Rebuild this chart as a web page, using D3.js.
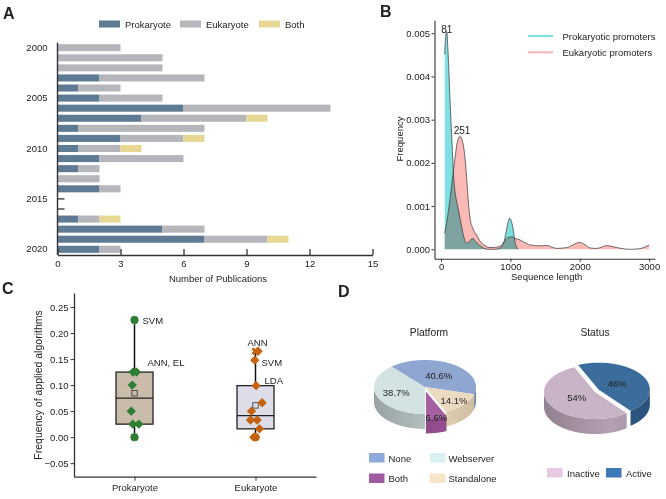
<!DOCTYPE html>
<html><head><meta charset="utf-8">
<script src="https://cdn.jsdelivr.net/npm/d3@7"></script>
<style>
body{margin:0;background:#fff;}
text{font-family:"Liberation Sans",Arial,sans-serif;fill:#222;}
.axis path,.axis line{stroke:#333;}
</style></head><body>
<svg id="fig" width="666" height="499"></svg>
<script>
// ---------- Panel A data ----------
const years = [2000,2001,2002,2003,2004,2005,2006,2007,2008,2009,2010,2011,2012,2013,2014,2015,2016,2017,2018,2019,2020];
const seriesA = ["Prokaryote","Eukaryote","Both"];
const prokaryote = [0,0,0,2,1,2,6,4,1,3,1,2,1,0,2,0,0,1,5,7,2];
const eukaryote  = [3,5,5,5,2,3,7,5,6,3,2,4,1,2,1,0,0,1,2,3,1];
const both       = [0,0,0,0,0,0,0,1,0,1,1,0,0,0,0,0,0,1,0,1,0];
const xTicksA = [0,3,6,9,12,15];

// ---------- Panel B data ----------
const prokLength  = [53,66,82,100,130,160,187,210,240,274,322,370,418,457,500,550,600,680,780,860,910,950,990,1030,1070,1115];
const prokDensity = [0.00451,0.0049,0.00504,0.0046,0.00346,0.0024,0.00157,0.00125,0.001,0.00072,0.00033,0.00014,0.0002,0.00025,0.00018,0.0001,0.00004,0,0,0.00004,0.00018,0.0005,0.00072,0.00055,0.00015,0];
const eukLength  = [53,106,154,202,236,274,312,346,370,394,418,457,514,562,635,707,803,875,947,1019,1067,1139,1200,1284,1428,1524,1600,1668,1812,1900,1995,2080,2149,2245,2389,2533,2640,2725,2850,2950,3000];
const eukDensity = [0.00037,0.00087,0.00149,0.00211,0.00249,0.00261,0.00249,0.00211,0.00164,0.0011,0.00072,0.00049,0.00033,0.00019,0.00008,0.00004,0.00005,0.0001,0.00025,0.00029,0.00025,0.000216,0.00016,0.0001,0.00008,0.00009,0.00005,0.00002,0.00004,0.0001,0.00016,0.0001,0.00003,0.00002,0.000085,0.00004,0.00001,0,0.00001,0.00006,0.0001];
const peakLabels = ["81","251"];
const densityNames = ["Prokaryotic promoters","Eukaryotic promoters"];
const yTicksB = [0,0.001,0.002,0.003,0.004,0.005];
const xTicksB = [0,1000,2000,3000];

// ---------- Panel C data ----------
const algoGroups = ["Prokaryote","Eukaryote"];
const prokFreq = [0.225,0.125,0.125,0.1,0.05,0.025,0.025,0];
const eukFreq  = [0.165,0.148,0.099,0.066,0.05,0.033,0.033,0.016,0,0];
const prokNotes = ["SVM","ANN, EL"], prokNoteVals = [0.225,0.125];
const eukNotes = ["ANN","SVM","LDA"], eukNoteVals = [0.165,0.148,0.099];
const yTicksC = [-0.05,0,0.05,0.1,0.15,0.2,0.25];

// ---------- Panel D data ----------
const platformLabels = ["None","Webserver","Both","Standalone"];
const platformValues = [40.6,38.7,6.6,14.1];
const statusLabels = ["Inactive","Active"];
const statusValues = [54,46];

const svg = d3.select("#fig");
svg.append("rect").attr("width",666).attr("height",499).attr("fill","#fff");
const defs = svg.append("defs");
const FS = 9.5;

function letter(t,x,y){svg.append("text").attr("x",x).attr("y",y).attr("font-size",16).attr("font-weight","bold").attr("fill","#111").text(t);}
letter("A",3,18.5); letter("B",380,17); letter("C",2,294); letter("D",338,297);

// ================= Panel A =================
(function(){
  const g = svg.append("g");
  const colors = {Prokaryote:"#5f7b93",Eukaryote:"#b5b6bb",Both:"#e6d893"};
  const x = d3.scaleLinear().domain([0,15]).range([57.5,372.5]);
  const y = d3.scaleBand().domain(years).range([42.66,254.34]).paddingInner(0.3).paddingOuter(0.15);
  const table = years.map((yr,i)=>({year:yr,Prokaryote:prokaryote[i],Eukaryote:eukaryote[i],Both:both[i]}));
  const stack = d3.stack().keys(seriesA)(table);
  const ya = g.append("g").attr("class","axis").attr("transform","translate(57.5,0)")
    .call(d3.axisLeft(y).tickSizeInner(-7).tickSizeOuter(0).tickPadding(10).tickFormat(d=>d%5===0?d:""));
  ya.selectAll("text").attr("font-size",FS).attr("font-family",null);
  ya.selectAll("line").attr("stroke-width",1.3);
  ya.select(".domain").remove();
  stack.forEach(s=>{
    g.append("g").selectAll("rect").data(s).join("rect")
      .attr("x",d=>x(d[0])).attr("width",d=>x(d[1])-x(d[0]))
      .attr("y",d=>y(d.data.year)).attr("height",y.bandwidth())
      .attr("fill",colors[s.key]);
  });
  g.append("line").attr("x1",57.5).attr("x2",57.5).attr("y1",42.66).attr("y2",255).attr("stroke","#333").attr("stroke-width",1.4);
  const xa = g.append("g").attr("class","axis").attr("transform","translate(0,255)")
    .call(d3.axisBottom(x).tickValues(xTicksA).tickSizeInner(-6).tickSizeOuter(0).tickPadding(5));
  xa.selectAll("text").attr("font-size",FS).attr("font-family",null);
  xa.select(".domain").attr("stroke-width",1.4);
  xa.selectAll("line").attr("stroke-width",1.3);
  g.append("text").attr("x",218).attr("y",281.5).attr("text-anchor","middle").attr("font-size",FS).text("Number of Publications");
  const lx = [99,180,259];
  seriesA.forEach((k,i)=>{
    g.append("rect").attr("x",lx[i]).attr("y",20.5).attr("width",21).attr("height",7).attr("fill",colors[k]);
    g.append("text").attr("x",lx[i]+26).attr("y",27.5).attr("font-size",FS).text(k);
  });
})();

// ================= Panel B =================
(function(){
  const g = svg.append("g");
  const x = d3.scaleLinear().domain([-94,3085]).range([434.5,655]);
  const y = d3.scaleLinear().domain([-0.00022,0.0053]).range([258.8,20.3]);
  const prok = prokLength.map((l,i)=>[l,prokDensity[i]]);
  const euk = eukLength.map((l,i)=>[l,eukDensity[i]]);
  const area = d3.area().x(d=>x(d[0])).y0(y(0)).y1(d=>y(d[1])).curve(d3.curveMonotoneX);
  const line = d3.line().x(d=>x(d[0])).y(d=>y(d[1])).curve(d3.curveMonotoneX);
  const cPro = "#7fdfe1", cEuk = "#fbbab6";
  g.append("path").attr("d",area(euk)).attr("fill",cEuk);
  g.append("path").attr("d",area(prok)).attr("fill",cPro).style("mix-blend-mode","multiply");
  g.append("path").attr("d",line(euk)).attr("fill","none").attr("stroke","#333").attr("stroke-width",0.7);
  g.append("path").attr("d",line(prok)).attr("fill","none").attr("stroke","#333").attr("stroke-width",0.7);
  [prok,euk].forEach((s,i)=>{
    const pk = s[d3.maxIndex(s,d=>d[1])];
    g.append("text").attr("x",x(pk[0])+(i?2:0)).attr("y",y(pk[1])+(i?-2.5:1)).attr("text-anchor","middle").attr("font-size",FS+0.5).attr("fill","#333").text(peakLabels[i]);
  });
  const ya = g.append("g").attr("class","axis").attr("transform","translate(434.5,0)")
    .call(d3.axisLeft(y).tickValues(yTicksB).tickFormat(d3.format(".3f")).tickSize(3).tickSizeOuter(0).tickPadding(1.5));
  const xa = g.append("g").attr("class","axis").attr("transform","translate(0,258.8)")
    .call(d3.axisBottom(x).tickValues(xTicksB).tickFormat(d3.format("d")).tickSize(3).tickSizeOuter(0).tickPadding(1.5));
  [ya,xa].forEach(a=>{a.selectAll("text").attr("font-size",FS).attr("font-family",null).attr("fill","#444");a.select(".domain").attr("stroke-width",1.1);});
  g.append("text").attr("transform","translate(403,139) rotate(-90)").attr("text-anchor","middle").attr("font-size",FS).text("Frequency");
  g.append("text").attr("x",546.7).attr("y",280).attr("text-anchor","middle").attr("font-size",FS).text("Sequence length");
  [cPro,"#f5b9b9"].forEach((c,i)=>{
    const yy = 36+i*16.3;
    g.append("line").attr("x1",528).attr("x2",553).attr("y1",yy).attr("y2",yy).attr("stroke",c).attr("stroke-width",2.2);
    g.append("text").attr("x",562.5).attr("y",yy+3.5).attr("font-size",FS).text(densityNames[i]);
  });
})();

// ================= Panel C =================
(function(){
  const g = svg.append("g");
  const x = d3.scalePoint().domain(algoGroups).range([74,316]).padding(0.5);
  const y = d3.scaleLinear().domain([-0.076,0.277]).range([476.7,293]);
  const ya = g.append("g").attr("class","axis").attr("transform","translate(74,0)")
    .call(d3.axisLeft(y).tickValues(yTicksC).tickFormat(d3.format(".2f")).tickSize(3.5).tickSizeOuter(0).tickPadding(2));
  const xa = g.append("g").attr("class","axis").attr("transform","translate(0,476.7)")
    .call(d3.axisBottom(x).tickSize(4).tickSizeOuter(0).tickPadding(4));
  [ya,xa].forEach(a=>{a.selectAll("text").attr("font-size",FS).attr("font-family",null).attr("fill","#222");a.select(".domain").attr("stroke-width",1.3).attr("stroke","#222");a.selectAll("line").attr("stroke","#222");});
  g.append("text").attr("transform","translate(42,385) rotate(-90)").attr("text-anchor","middle").attr("font-size",10.5).text("Frequency of applied algorithms");
  const groups = [
    {name:"Prokaryote",vals:prokFreq,fill:"#c9bcab",pt:"#2f7d32",jit:[0,-1.5,2,-2.3,-3.3,-1.7,4.3,0],notes:prokNotes,nv:prokNoteVals,off:[[8,4],[13,-6.5]]},
    {name:"Eukaryote",vals:eukFreq,fill:"#dcdde9",pt:"#c4620f",jit:[2.6,-0.7,0.6,6.6,-4,-5,1.6,4,-1.7,0.3],notes:eukNotes,nv:eukNoteVals,off:[[-8,-5.5],[6,5.5],[9,-1.5]]}
  ];
  const bw = 37;
  groups.forEach(gr=>{
    const s = gr.vals.slice().sort(d3.ascending), n=s.length, h=Math.floor(n/2);
    const lo = s.slice(0,h), hi = s.slice(n-h);
    const q1 = d3.median(lo), q3 = d3.median(hi), med = d3.median(s), mean = d3.mean(s);
    const mn = d3.min(s), mx = d3.max(s), cx = x(gr.name);
    g.append("line").attr("x1",cx).attr("x2",cx).attr("y1",y(mx)).attr("y2",y(mn)).attr("stroke","#111").attr("stroke-width",1.5);
    g.append("rect").attr("x",cx-bw/2).attr("width",bw).attr("y",y(q3)).attr("height",y(q1)-y(q3)).attr("fill",gr.fill).attr("stroke","#222").attr("stroke-width",1.3);
    g.append("line").attr("x1",cx-bw/2).attr("x2",cx+bw/2).attr("y1",y(med)).attr("y2",y(med)).attr("stroke","#222").attr("stroke-width",1.3);
    g.append("rect").attr("x",cx-2.7).attr("y",y(mean)-2.7).attr("width",5.4).attr("height",5.4).attr("fill","none").attr("stroke","#333").attr("stroke-width",0.8);
    [mx,mn].forEach(v=>{
      g.append("path").attr("d",d3.symbol(d3.symbolCross,40)()).attr("transform",`translate(${cx},${y(v)}) rotate(45)`).attr("fill",gr.pt);
    });
    gr.vals.forEach((v,i)=>{
      g.append("path").attr("d",d3.symbol(d3.symbolSquare,44)()).attr("transform",`translate(${cx+gr.jit[i]},${y(v)}) rotate(45)`).attr("fill",gr.pt);
    });
    gr.notes.forEach((t,i)=>{
      g.append("text").attr("x",cx+gr.off[i][0]).attr("y",y(gr.nv[i])+gr.off[i][1]).attr("font-size",FS).text(t);
    });
  });
})();

// ================= Panel D =================
function pie3d(items,opt){
  const g = svg.append("g");
  const pie = d3.pie().sort(null).value(d=>d.value).startAngle(opt.start).endAngle(opt.start+2*Math.PI);
  const arcs = pie(items);
  const P=(t,dx,dy,h)=>[opt.cx+dx+opt.rx*Math.sin(t),opt.cy+dy-opt.ry*Math.cos(t)+(h||0)];
  const line = d3.line();
  const order = arcs.slice().sort((a,b)=>(a.data.explode?1:0)-(b.data.explode?1:0));
  arcs.forEach(a=>{
    const e=a.data.explode||0, mid=(a.startAngle+a.endAngle)/2;
    a.dx=e*Math.sin(mid); a.dy=-e*Math.cos(mid); a.mid=mid;
  });
  order.forEach(a=>{
    const id = "grad"+opt.id+a.index;
    const c = d3.color(a.data.side);
    const gr = defs.append("linearGradient").attr("id",id).attr("gradientUnits","userSpaceOnUse")
      .attr("x1",opt.cx-opt.rx).attr("x2",opt.cx+opt.rx).attr("y1",0).attr("y2",0);
    gr.append("stop").attr("offset",0).attr("stop-color",c.darker(0.45));
    gr.append("stop").attr("offset",0.65).attr("stop-color",c.brighter(0.15));
    gr.append("stop").attr("offset",1).attr("stop-color",c.darker(0.15));
    const n = Math.max(8,Math.ceil((a.endAngle-a.startAngle)/0.01));
    const ts = d3.range(n+1).map(i=>a.startAngle+(a.endAngle-a.startAngle)*i/n);
    let seg=null; const segs=[];
    ts.forEach(t=>{ if(Math.cos(t)<=0.001){ if(!seg){seg=[];segs.push(seg);} seg.push(t);} else seg=null; });
    segs.forEach(s=>{
      const pts = s.map(t=>P(t,a.dx,a.dy)).concat(s.slice().reverse().map(t=>P(t,a.dx,a.dy,opt.h)));
      g.append("path").attr("d",line(pts)+"Z").attr("fill",`url(#${id})`);
    });
    const top = [[opt.cx+a.dx,opt.cy+a.dy]].concat(ts.map(t=>P(t,a.dx,a.dy)));
    g.append("path").attr("d",line(top)+"Z").attr("fill",a.data.top);
  });
  arcs.forEach(a=>{
    const k=a.data.k;
    g.append("text").attr("x",opt.cx+a.dx+k*opt.rx*Math.sin(a.mid)).attr("y",opt.cy+a.dy-k*opt.ry*Math.cos(a.mid))
      .attr("text-anchor","middle").attr("dominant-baseline","central").attr("font-size",FS).attr("fill","#222")
      .text(d3.format(".1f")(a.data.value).replace(/\.0$/,"")+"%");
  });
}
(function(){
  const legendColor = {None:"#8eaadb",Webserver:"#daf0f2",Both:"#a05a9f",Standalone:"#f7e4c9",Inactive:"#e8c9e3",Active:"#3f78b6"};
  const topColor = {None:"#8fa6d1",Webserver:"#d3e3e4",Both:"#a4609f",Standalone:"#ebdbc3",Inactive:"#c8b4c6",Active:"#3b6c9c"};
  const sideColor = {None:"#7288b0",Webserver:"#b2bebe",Both:"#8b4a88",Standalone:"#d8c6aa",Inactive:"#ab98aa",Active:"#2c5783"};
  const kf = {None:0.5,Webserver:0.6,Standalone:0.75,Both:1.0,Inactive:0.42,Active:0.42};
  const pOrder = ["Webserver","None","Standalone","Both"];
  const pItems = pOrder.map(l=>({label:l,value:platformValues[platformLabels.indexOf(l)],top:topColor[l],side:sideColor[l],k:kf[l],explode:l==="Both"?4.5:0}));
  pie3d(pItems,{id:"p",cx:425,cy:387,rx:51,ry:27,h:15,start:Math.PI});
  const sOrder = ["Active","Inactive"];
  const sItems = sOrder.map(l=>({label:l,value:statusValues[statusLabels.indexOf(l)],top:topColor[l],side:sideColor[l],k:kf[l],explode:l==="Active"?4.5:0}));
  pie3d(sItems,{id:"s",cx:595,cy:392,rx:51,ry:27,h:15,start:-24*Math.PI/180});
  svg.append("text").attr("x",429).attr("y",335.5).attr("text-anchor","middle").attr("font-size",10.3).text("Platform");
  svg.append("text").attr("x",595).attr("y",335.5).attr("text-anchor","middle").attr("font-size",10.3).text("Status");
  const pl = [[369,453],[430,453],[369,473.5],[430,473.5]];
  platformLabels.forEach((l,i)=>{
    svg.append("rect").attr("x",pl[i][0]).attr("y",pl[i][1]).attr("width",15.5).attr("height",9.5).attr("fill",legendColor[l]);
    svg.append("text").attr("x",pl[i][0]+(i%2?18.5:19.5)).attr("y",pl[i][1]+8.5).attr("font-size",FS).text(l);
  });
  const sl = [[547,468],[606,468]];
  statusLabels.forEach((l,i)=>{
    svg.append("rect").attr("x",sl[i][0]).attr("y",sl[i][1]).attr("width",15.5).attr("height",9.5).attr("fill",legendColor[l]);
    svg.append("text").attr("x",sl[i][0]+20).attr("y",sl[i][1]+8.5).attr("font-size",FS).text(l);
  });
})();
</script>
</body></html>
